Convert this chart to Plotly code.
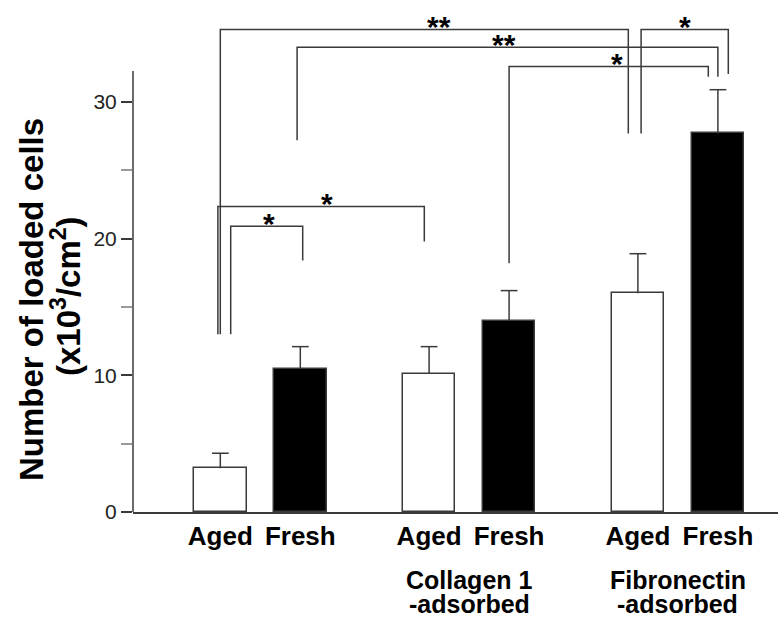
import plotly.graph_objects as go

# ---------------- data ----------------
groups = ["", "Collagen 1", "Fibronectin"]
group_sub = ["", "-adsorbed", "-adsorbed"]
conditions = ["Aged", "Fresh"]
aged_mean = [3.2, 10.1, 16.0]
fresh_mean = [10.5, 14.0, 27.7]
aged_err = [1.1, 2.0, 2.9]
fresh_err = [1.6, 2.2, 3.2]
y_ticks = [0, 10, 20, 30]
y_minor_ticks = [5, 15, 25]
# significance comparisons: (bar index a, bar index b, label); bars ordered A1,F1,A2,F2,A3,F3
comparisons = [(0, 4, "**"), (4, 5, "*"), (1, 5, "**"), (3, 5, "*"), (0, 2, "*"), (0, 1, "*")]

# ---------------- layout / style ----------------
W, H = 778, 619
ML, MR, MT, MB = 133, 0, 0, 107
PX_PER_UNIT = 410 / 30.0
plot_h = H - MT - MB
plot_w = W - ML - MR
Y_TOP = plot_h / PX_PER_UNIT
GROUP_STEP = 2.61
BAR_W = 0.657
X_LEFT = (133 - 220.3) / 80.0
X_RIGHT = (778 - 220.3) / 80.0
LINE_COL = "#3a3a3a"
FONT = "Liberation Sans, Arial, sans-serif"


def paper_y(px):
    return (H - MB - px) / plot_h


def paper_x(px):
    return (px - ML) / plot_w


# bracket geometry: top, left-leg end, right-leg end, left dx, right dx, label dx
bracket_geom = [
    (35.3, 13.0, 27.7, 0.0, -0.12, 0.18),
    (35.3, 27.7, 32.05, 0.04, 0.13, 0.0),
    (34.0, 27.2, 31.85, -0.04, 0.0, -0.04),
    (32.6, 18.2, 31.85, 0.0, -0.12, 0.10),
    (22.35, 13.0, 19.8, -0.03, -0.06, 0.07),
    (20.9, 13.0, 18.4, 0.13, 0.03, 0.03),
]

aged_x = [g * GROUP_STEP for g in range(len(groups))]
fresh_x = [g * GROUP_STEP + 1 for g in range(len(groups))]
bar_x, bar_mean, bar_err = [], [], []
for g in range(len(groups)):
    bar_x += [aged_x[g], fresh_x[g]]
    bar_mean += [aged_mean[g], fresh_mean[g]]
    bar_err += [aged_err[g], fresh_err[g]]

fig = go.Figure()
fig.add_trace(go.Bar(
    x=aged_x, y=aged_mean, width=BAR_W,
    marker=dict(color="white", line=dict(color=LINE_COL, width=1.5)),
    error_y=dict(type="data", symmetric=False, array=aged_err, arrayminus=[0] * 3,
                 color=LINE_COL, thickness=1.5, width=0),
    name="Aged", showlegend=False,
))
fig.add_trace(go.Bar(
    x=fresh_x, y=fresh_mean, width=BAR_W,
    marker=dict(color="black", line=dict(color=LINE_COL, width=1.5)),
    error_y=dict(type="data", symmetric=False, array=fresh_err, arrayminus=[0] * 3,
                 color=LINE_COL, thickness=1.5, width=0),
    name="Fresh", showlegend=False,
))
# error-bar caps (top only)
fig.add_trace(go.Scatter(
    x=bar_x, y=[m + e for m, e in zip(bar_mean, bar_err)], mode="markers",
    marker=dict(symbol="line-ew", size=12, line=dict(color=LINE_COL, width=1.5)),
    showlegend=False, hoverinfo="skip",
))

shapes = []
annotations = []
# y axis line (stops below the brackets)
shapes.append(dict(type="line", xref="paper", yref="y", x0=0, x1=0, y0=0, y1=32.27,
                   line=dict(color=LINE_COL, width=1.5)))

for (a, b, lab), (top, lend, rend, ldx, rdx, tdx) in zip(comparisons, bracket_geom):
    xa = bar_x[a] + ldx
    xb = bar_x[b] + rdx
    shapes.append(dict(type="path", xref="x", yref="y",
                       path=f"M {xa},{lend} L {xa},{top} L {xb},{top} L {xb},{rend}",
                       line=dict(color=LINE_COL, width=1.5)))
    annotations.append(dict(x=(xa + xb) / 2 + tdx, y=top, xref="x", yref="y",
                            text=lab, showarrow=False, yanchor="middle", yshift=3,
                            font=dict(family=FONT, size=30, color="black", weight="bold")))

for g in range(len(groups)):
    if groups[g]:
        cx = (aged_x[g] + fresh_x[g]) / 2
        annotations.append(dict(x=cx, y=paper_y(580), xref="x", yref="paper", text=groups[g],
                                showarrow=False, yanchor="middle",
                                font=dict(family=FONT, size=25, color="black", weight="bold")))
        annotations.append(dict(x=cx, y=paper_y(604), xref="x", yref="paper", text=group_sub[g],
                                showarrow=False, yanchor="middle",
                                font=dict(family=FONT, size=25, color="black", weight="bold")))

# y-axis title (two lines)
annotations.append(dict(x=paper_x(31), y=paper_y(300), xref="paper", yref="paper",
                        text="Number of loaded cells",
                        showarrow=False, textangle=-90, xanchor="center", yanchor="middle",
                        font=dict(family=FONT, size=33, color="black", weight="bold")))
annotations.append(dict(x=paper_x(66), y=paper_y(296), xref="paper", yref="paper",
                        text="(x10<sup>3</sup>/cm<sup>2</sup>)",
                        showarrow=False, textangle=-90, xanchor="center", yanchor="middle",
                        font=dict(family=FONT, size=33, color="black", weight="bold")))

fig.update_layout(
    width=W, height=H,
    margin=dict(l=ML, r=MR, t=MT, b=MB, pad=0),
    plot_bgcolor="white", paper_bgcolor="white",
    shapes=shapes, annotations=annotations,
    bargap=0,
    xaxis=dict(range=[X_LEFT, X_RIGHT], tickvals=bar_x,
               ticktext=[c for _ in groups for c in conditions],
               showline=True, linecolor=LINE_COL, linewidth=1.5, ticks="",
               showgrid=False, zeroline=False,
               tickfont=dict(family=FONT, size=26, color="black", weight="bold")),
    yaxis=dict(range=[0, Y_TOP], tickvals=y_ticks, showline=False, showgrid=False,
               zeroline=False, ticks="outside", ticklen=11, tickcolor=LINE_COL, tickwidth=1.5,
               minor=dict(tickvals=y_minor_ticks, ticks="outside", ticklen=11,
                          tickcolor="#9a9a9a", tickwidth=1.5, showgrid=False),
               tickfont=dict(family=FONT, size=21, color="#222")),
)

fig.write_html("out.html")
